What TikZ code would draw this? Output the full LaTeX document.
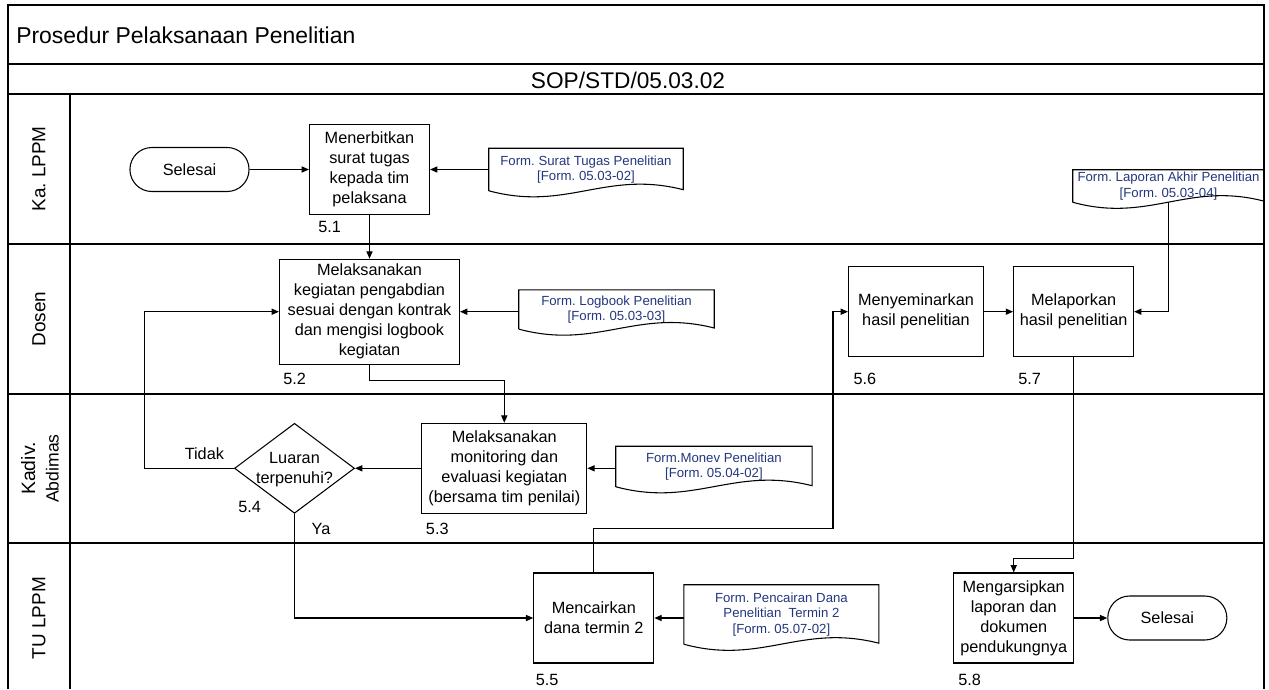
\documentclass[tikz,border=0pt]{standalone}
\usepackage{fontspec}
\setmainfont{Liberation Sans}
\usetikzlibrary{arrows.meta,calc,shapes.geometric}
\definecolor{doctext}{RGB}{35,55,125}
\frenchspacing
\tikzset{
  swimline/.style={line width=1.1pt},
  thinline/.style={line width=0.8pt},
  box/.style={draw, line width=0.8pt, rectangle, inner sep=0pt, align=center,
    font=\fontsize{12.2}{15}\selectfont},
  term/.style={draw, line width=0.8pt, rectangle, rounded corners=16.4pt, inner sep=0pt,
    align=center, font=\fontsize{12.2}{15}\selectfont, minimum width=89.3pt, minimum height=33pt},
  decision/.style={draw, line width=0.8pt, diamond, inner sep=0pt,
    minimum width=90pt, minimum height=67.5pt},
  docbox/.style={inner sep=0pt, align=center, text=doctext,
    font=\fontsize{9.9}{11.6}\selectfont},
  lbl/.style={inner sep=0pt, anchor=west, font=\fontsize{12.2}{15}\selectfont},
  lane/.style={inner sep=0pt, rotate=90, font=\fontsize{14.2}{17}\selectfont},
  conn/.style={line width=0.8pt, -{Triangle[length=5.5pt,width=4.6pt]}},
}
\newcommand{\docnode}[5]{%
  \node[docbox, minimum width=#3, minimum height=#4] (#1) at #2 {#5};
  \draw[thinline] (#1.south west) -- (#1.north west) -- (#1.north east) -- ([yshift=0.8pt]#1.south east)
    .. controls ($(#1.south west)!0.6!(#1.south east)+(0,-21)$) and ($(#1.south west)!0.4!(#1.south east)+(0,21)$) .. (#1.south west);
}
\begin{document}
\begin{tikzpicture}[x=0.75pt,y=-0.75pt]
\useasboundingbox (0,0) rectangle (1269,689);
% frame
\draw[swimline] (8,689) -- (8,5) -- (1264,5) -- (1264,689);
\draw[swimline] (8,64) -- (1264,64);
\draw[swimline] (8,94) -- (1264,94);
\draw[swimline] (8,244) -- (1264,244);
\draw[swimline] (8,394) -- (1264,394);
\draw[swimline] (8,543) -- (1264,543);
\draw[swimline] (70,94) -- (70,689);
% headers
\node[anchor=west, inner sep=0pt, font=\fontsize{17.2}{20}\selectfont] (title) at (16,35) {Prosedur Pelaksanaan Penelitian};
\node[inner sep=0pt, font=\fontsize{17}{20}\selectfont] (sop) at (628,80) {SOP/STD/05.03.02};
\node[lane] (l1) at (39,169) {Ka. LPPM};
\node[lane] (l2) at (39,319) {Dosen};
\node[lane, align=center, font=\fontsize{14.5}{17.6}\selectfont] (l3) at (40,468.5) {Kadiv.\\{\fontsize{13.2}{17.6}\selectfont Abdimas}};
\node[lane] (l4) at (39,618) {TU LPPM};
% nodes
\node[term] (s1) at (189.5,169.5) {Selesai};
\node[box, minimum width=90pt, minimum height=67.5pt] (b1) at (369.5,169.5) {Menerbitkan\\surat tugas\\kepada tim\\pelaksana};
\docnode{d1}{(586,169.5)}{145.5pt}{31.5pt}{Form. Surat Tugas Penelitian\\{[Form. 05.03-02]}}
\node[box, minimum width=135pt, minimum height=78.75pt] (b2) at (369.5,311.7) {Melaksanakan\\kegiatan pengabdian\\sesuai dengan kontrak\\dan mengisi logbook\\kegiatan};
\docnode{d2}{(616.5,309.5)}{146.25pt}{29pt}{Form. Logbook Penelitian\\{[Form. 05.03-03]}}
\node[box, minimum width=101.25pt, minimum height=67.5pt] (b6) at (916,311.7) {Menyeminarkan\\hasil penelitian};
\node[box, minimum width=90pt, minimum height=67.5pt] (b7) at (1073.6,311.7) {Melaporkan\\hasil penelitian};
\docnode{d4}{(1168.5,186)}{143.25pt}{24pt}{Form. Laporan Akhir Penelitian\\{[Form. 05.03-04]}}
\node[box, minimum width=123.75pt, minimum height=67.5pt] (b3) at (504.3,468.3) {Melaksanakan\\monitoring dan\\evaluasi kegiatan\\(bersama tim penilai)};
\docnode{d3}{(713.9,466.5)}{146.8pt}{30pt}{Form.Monev Penelitian\\{[Form. 05.04-02]}}
\node[decision, label={[inner sep=0pt, align=center, font=\fontsize{12.2}{15}\selectfont, yshift=-1pt]center:Luaran\\terpenuhi?}] (dm) at (294.5,468.3) {};
\node[box, minimum width=90pt, minimum height=67.5pt] (b5) at (593.8,618) {Mencairkan\\dana termin 2};
\docnode{d5}{(781.4,614.5)}{145.8pt}{44.25pt}{Form. Pencairan Dana\\Penelitian \ Termin 2\\{[Form. 05.07-02]}}
\node[box, minimum width=90pt, minimum height=67.5pt] (b8) at (1013.7,618) {Mengarsipkan\\laporan dan\\dokumen\\pendukungnya};
\node[term] (s2) at (1167.3,618) {Selesai};
% step labels
\node[lbl] (n51) at (318,227) {5.1};
\node[lbl] (n52) at (283,379) {5.2};
\node[lbl] (n53) at (425.7,529) {5.3};
\node[lbl] (n54) at (238,506.7) {5.4};
\node[lbl] (n55) at (535.5,680) {5.5};
\node[lbl] (n56) at (853.3,379) {5.6};
\node[lbl] (n57) at (1018,379) {5.7};
\node[lbl] (n58) at (958,680) {5.8};
\node[lbl] (tidak) at (184.5,454) {Tidak};
\node[lbl] (ya) at (311.4,529) {Ya};
% connectors
\draw[conn] (s1.east) -- (b1.west);
\draw[conn] (d1.west) -- (b1.east);
\draw[conn] (b1.south) -- (b2.north);
\draw[conn] (d2.west |- b2.east) -- (b2.east);
\draw[conn] (b2.south) -- ++(0,15.3) -| (b3.north);
\draw[conn] (d3.west |- b3.east) -- (b3.east);
\draw[conn] (b3.west) -- (dm.east);
\draw[conn] (dm.west) -- ++(-89.5,0) |- (b2.west);
\draw[conn] (dm.south) |- (b5.west);
\draw[conn] (b5.north) -- ++(0,-44.4) -| ($(b6.west)+(-15,0)$) -- (b6.west);
\draw[conn] (b6.east) -- (b7.west);
\draw[conn] (d4.south) |- (b7.east);
\draw[conn] (b7.south) |- ($(b8.north)+(0,-14.4)$) -- (b8.north);
\draw[conn] (d5.west |- b5.east) -- (b5.east);
\draw[conn] (b8.east) -- (s2.west);
\end{tikzpicture}
\end{document}
